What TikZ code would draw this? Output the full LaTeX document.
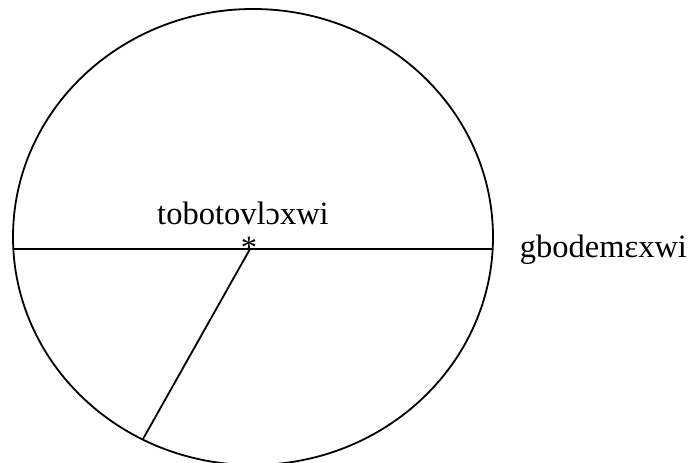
\documentclass[tikz,border=0pt]{standalone}
\usepackage{fontspec}
\setmainfont{Liberation Serif}
\usetikzlibrary{positioning}

\begin{document}
\begin{tikzpicture}[x=1pt,y=-1pt,line width=1.8pt]
\fontsize{32.5}{38}\selectfont
\clip (0,0) rectangle (691,463);
\coordinate (O) at (253,237);
\coordinate (L) at (13,249);
\coordinate (R) at (493,249);
\coordinate (C) at (250,249);
\coordinate (P) at (143,439);
\draw (O) ellipse [x radius=240, y radius=228];
\node[inner sep=0,anchor=base] (star) at (249,258) {*};
\node[inner sep=0,anchor=base] (A) at (243,224) {tobotovlɔxwi};
\node[inner sep=0,anchor=base west] (B) at (519,257) {gbodemɛxwi};
\draw (L) -- (R);
\draw (C) -- (P);
\end{tikzpicture}
\end{document}
